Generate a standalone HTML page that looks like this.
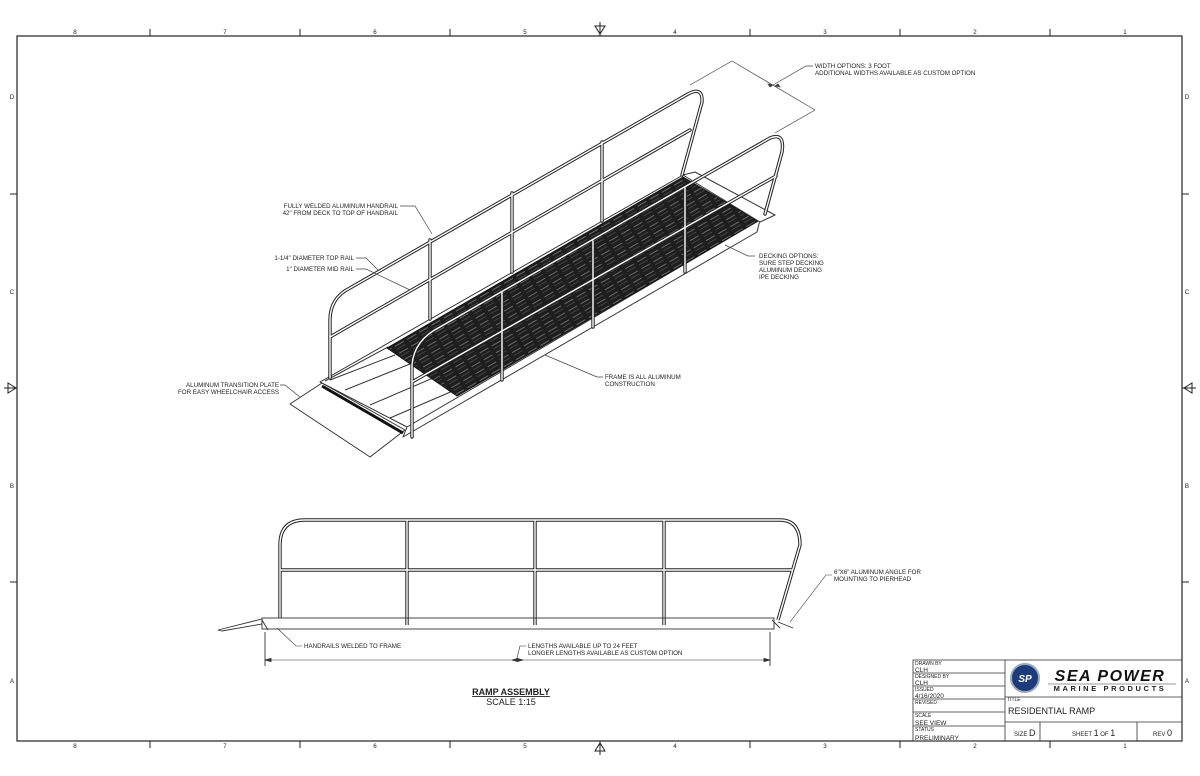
<!DOCTYPE html>
<html><head><meta charset="utf-8"><style>
html,body{margin:0;padding:0;background:#fff;}
svg{display:block;}
text{font-family:"Liberation Sans",sans-serif;fill:#222;}
.t{font-size:6.2px;}
</style></head><body>
<svg width="1200" height="776" viewBox="0 0 1200 776" xmlns="http://www.w3.org/2000/svg">
<defs>
<pattern id="dk" width="14" height="8" patternUnits="userSpaceOnUse" patternTransform="rotate(-30)">
<rect width="14" height="8" fill="#1e1e1e"/>
<rect x="1" y="1" width="10" height="1" fill="#6a6a6a"/>
<rect x="1" y="4.5" width="10" height="0.8" fill="#4a4a4a"/>
</pattern>
</defs>
<rect x="0" y="0" width="1200" height="776" fill="#fff"/>
<rect x="17" y="36" width="1165" height="705" fill="none" stroke="#222" stroke-width="1.2"/>
<g stroke="#222" stroke-width="1">
<line x1="150" y1="29" x2="150" y2="36"/><line x1="300" y1="29" x2="300" y2="36"/><line x1="450" y1="29" x2="450" y2="36"/><line x1="750" y1="29" x2="750" y2="36"/><line x1="900" y1="29" x2="900" y2="36"/><line x1="1050" y1="29" x2="1050" y2="36"/>
<line x1="150" y1="741" x2="150" y2="748"/><line x1="300" y1="741" x2="300" y2="748"/><line x1="450" y1="741" x2="450" y2="748"/><line x1="750" y1="741" x2="750" y2="748"/><line x1="900" y1="741" x2="900" y2="748"/><line x1="1050" y1="741" x2="1050" y2="748"/>
<line x1="10" y1="194" x2="17" y2="194"/><line x1="10" y1="582" x2="17" y2="582"/>
<line x1="1182" y1="194" x2="1189" y2="194"/><line x1="1182" y1="582" x2="1189" y2="582"/>
<line x1="600" y1="22" x2="600" y2="36"/><path d="M595,26 L605,26 L600,34 Z" fill="none"/>
<line x1="600" y1="741" x2="600" y2="755"/><path d="M595,751 L605,751 L600,743 Z" fill="none"/>
<line x1="4" y1="388" x2="17" y2="388"/><path d="M8,383 L8,393 L16,388 Z" fill="none"/>
<line x1="1182" y1="388" x2="1196" y2="388"/><path d="M1192,383 L1192,393 L1184,388 Z" fill="none"/>
</g>
<g class="t" text-anchor="middle">
<text x="75" y="34">8</text><text x="225" y="34">7</text><text x="375" y="34">6</text><text x="525" y="34">5</text><text x="675" y="34">4</text><text x="825" y="34">3</text><text x="975" y="34">2</text><text x="1125" y="34">1</text>
<text x="75" y="748">8</text><text x="225" y="748">7</text><text x="375" y="748">6</text><text x="525" y="748">5</text><text x="675" y="748">4</text><text x="825" y="748">3</text><text x="975" y="748">2</text><text x="1125" y="748">1</text>
<text x="12" y="99">D</text><text x="12" y="294">C</text><text x="12" y="488">B</text><text x="12" y="683">A</text>
<text x="1187" y="99">D</text><text x="1187" y="294">C</text><text x="1187" y="488">B</text><text x="1187" y="683">A</text>
</g>

<g stroke="#333" stroke-width="1" fill="none" stroke-linejoin="round">
<path d="M322,383 L405,430 L370,457 L290,404 Z" fill="#fff"/>
<line x1="322" y1="386" x2="403" y2="433" stroke-width="3" stroke="#111"/>
<path d="M320,382 L683,175 L760,220 L407,427 Z" fill="#fff"/>
<path d="M407,427 L403,437 L757,232 L760,220"/>
<line x1="330" y1="380" x2="395" y2="355"/><line x1="345" y1="390" x2="420" y2="360"/><line x1="370" y1="405" x2="440" y2="375"/><line x1="390" y1="418" x2="455" y2="390"/>
<line x1="325" y1="381" x2="388" y2="347"/>
<path d="M387,348 L683,177 L758,221 L457,396 Z" fill="url(#dk)" stroke="#111"/>
<path d="M683,175 L695,172 L775,215 L760,222 Z" fill="#fff"/>
</g>
<g fill="none" stroke="#222" stroke-width="3.4" stroke-linecap="round" stroke-linejoin="round">
<path d="M330,378 L330,320 Q330,298 350,288 L688,94 Q703,86 702,102 L682,175"/>
<path d="M330,337 L690,130"/>
<path d="M430,240 L430,319"/><path d="M512,193 L512,272"/><path d="M602,142 L602,221"/>
<path d="M412,437 L412,365 Q414,340 440,327 L770,138 Q785,132 782,152 L765,214"/>
<path d="M412,382 L776,176"/>
<path d="M502,292 L502,380"/><path d="M593,241 L593,327"/><path d="M685,188 L685,272"/>
</g>
<g fill="none" stroke="#fff" stroke-width="1.4" stroke-linecap="round" stroke-linejoin="round">
<path d="M330,378 L330,320 Q330,298 350,288 L688,94 Q703,86 702,102 L682,175"/>
<path d="M330,337 L690,130"/>
<path d="M430,240 L430,319"/><path d="M512,193 L512,272"/><path d="M602,142 L602,221"/>
<path d="M412,437 L412,365 Q414,340 440,327 L770,138 Q785,132 782,152 L765,214"/>
<path d="M412,382 L776,176"/>
<path d="M502,292 L502,380"/><path d="M593,241 L593,327"/><path d="M685,188 L685,272"/>
</g>

<g stroke="#444" stroke-width="0.7" fill="none">
<line x1="732" y1="61" x2="815" y2="110"/>
<line x1="732" y1="61" x2="690" y2="85"/>
<line x1="815" y1="110" x2="775" y2="133"/>
<path d="M773,85 l-5,-1 l2,3 Z M775,86 l5,1 l-2,-3 Z" fill="#333"/>
<polyline points="773,85 806,66 813,66"/>
<polyline points="400,206 415,206 432,234"/>
<polyline points="356,258 366,258 378,270"/>
<polyline points="356,269 366,269 410,290"/>
<polyline points="280,385 285,385 300,397"/>
<polyline points="603,377 597,377 545,355"/>
<polyline points="755,256 748,256 725,245"/>
</g>
<g class="t">
<text x="815" y="68">WIDTH OPTIONS: 3 FOOT</text>
<text x="815" y="75">ADDITIONAL WIDTHS AVAILABLE AS CUSTOM OPTION</text>
<text x="398" y="208" text-anchor="end">FULLY WELDED ALUMINUM HANDRAIL</text>
<text x="398" y="215" text-anchor="end">42" FROM DECK TO TOP OF HANDRAIL</text>
<text x="354" y="260" text-anchor="end">1-1/4" DIAMETER TOP RAIL</text>
<text x="354" y="271" text-anchor="end">1" DIAMETER MID RAIL</text>
<text x="759" y="258">DECKING OPTIONS:</text>
<text x="759" y="265">SURE STEP DECKING</text>
<text x="759" y="272">ALUMINUM DECKING</text>
<text x="759" y="279">IPE DECKING</text>
<text x="605" y="379">FRAME IS ALL ALUMINUM</text>
<text x="605" y="386">CONSTRUCTION</text>
<text x="279" y="387" text-anchor="end">ALUMINUM TRANSITION PLATE</text>
<text x="279" y="394" text-anchor="end">FOR EASY WHEELCHAIR ACCESS</text>
</g>

<g fill="none" stroke="#222" stroke-width="3.4" stroke-linejoin="round">
<path d="M280,618 L280,545 Q280,520 305,520 L780,520 Q800,520 800,545 L778,620"/>
<line x1="280" y1="570" x2="792" y2="570"/>
<line x1="407" y1="520" x2="407" y2="625"/><line x1="535" y1="520" x2="535" y2="625"/><line x1="664" y1="520" x2="664" y2="625"/>
</g>
<g fill="none" stroke="#fff" stroke-width="1.4" stroke-linejoin="round">
<path d="M280,618 L280,545 Q280,520 305,520 L780,520 Q800,520 800,545 L778,620"/>
<line x1="280" y1="570" x2="792" y2="570"/>
<line x1="407" y1="520" x2="407" y2="625"/><line x1="535" y1="520" x2="535" y2="625"/><line x1="664" y1="520" x2="664" y2="625"/>
</g>
<g fill="none" stroke="#333" stroke-width="0.9">
<rect x="262" y="618" width="512" height="11" fill="none"/>
<path d="M218,630 L262,619 L262,624 L222,631 Z"/>
<path d="M262,620 L268,630"/><path d="M772,620 L780,628"/>
<path d="M778,622 L793,628"/>
<line x1="265" y1="632" x2="265" y2="666"/><line x1="770" y1="632" x2="770" y2="666"/>
<line x1="265" y1="660" x2="770" y2="660" stroke-width="0.6"/>
<path d="M265,660 l6,-1.5 v3 Z M770,660 l-6,-1.5 v3 Z M512,660 l6,-1.5 v3 Z M523,660 l-6,-1.5 v3Z" fill="#333"/>
<polyline points="302,646 296,646 277,628" stroke-width="0.6"/>
<polyline points="526,646 520,646 517,658" stroke-width="0.6"/>
<polyline points="832,575 826,575 790,622" stroke-width="0.6"/>
</g>
<g class="t">
<text x="304" y="648">HANDRAILS WELDED TO FRAME</text>
<text x="528" y="648">LENGTHS AVAILABLE UP TO 24 FEET</text>
<text x="528" y="655">LONGER LENGTHS AVAILABLE AS CUSTOM OPTION</text>
<text x="834" y="574">6"X6" ALUMINUM ANGLE FOR</text>
<text x="834" y="581">MOUNTING TO PIERHEAD</text>
</g>
<text x="511" y="695" text-anchor="middle" style="font-size:9px;font-weight:bold;text-decoration:underline">RAMP ASSEMBLY</text>
<text x="511" y="705" text-anchor="middle" style="font-size:9px">SCALE 1:15</text>

<g stroke="#333" stroke-width="0.8" fill="none">
<rect x="913" y="660" width="269" height="81"/>
<line x1="1005" y1="660" x2="1005" y2="741"/>
<line x1="1005" y1="697" x2="1182" y2="697"/>
<line x1="1005" y1="722" x2="1182" y2="722"/>
<line x1="1040" y1="722" x2="1040" y2="741"/>
<line x1="1137" y1="722" x2="1137" y2="741"/>
<line x1="913" y1="673" x2="1005" y2="673"/><line x1="913" y1="686" x2="1005" y2="686"/><line x1="913" y1="699" x2="1005" y2="699"/><line x1="913" y1="712" x2="1005" y2="712"/><line x1="913" y1="726" x2="1005" y2="726"/>
</g>
<g style="font-size:5px" fill="#333">
<text x="915" y="665">DRAWN BY</text><text x="915" y="672" style="font-size:6.5px">CLH</text>
<text x="915" y="678">DESIGNED BY</text><text x="915" y="685" style="font-size:6.5px">CLH</text>
<text x="915" y="691">ISSUED</text><text x="915" y="698" style="font-size:6.5px">4/16/2020</text>
<text x="915" y="704">REVISED</text>
<text x="915" y="717">SCALE</text><text x="915" y="725" style="font-size:6.5px">SEE VIEW</text>
<text x="915" y="731">STATUS</text><text x="915" y="740" style="font-size:6.5px">PRELIMINARY</text>
<text x="1007" y="701">TITLE</text>
</g>
<circle cx="1025" cy="678" r="14" fill="#1d3b7a" stroke="#9ab" stroke-width="2"/>
<text x="1025" y="682" text-anchor="middle" style="font-size:10px;font-weight:bold;font-style:italic;fill:#fff">SP</text>
<text x="1110" y="681" text-anchor="middle" style="font-size:16px;font-weight:bold;font-style:italic;fill:#111;letter-spacing:1.5px">SEA POWER</text>
<line x1="1048" y1="684" x2="1176" y2="684" stroke="#333" stroke-width="0.6"/>
<text x="1110" y="691" text-anchor="middle" style="font-size:7.5px;font-weight:bold;letter-spacing:2.6px;fill:#222">MARINE PRODUCTS</text>
<text x="1008" y="714" style="font-size:9px">RESIDENTIAL RAMP</text>
<text x="1014" y="736" style="font-size:6px">SIZE <tspan style="font-size:9px">D</tspan></text>
<text x="1072" y="736" style="font-size:6px">SHEET <tspan style="font-size:9px">1</tspan> OF <tspan style="font-size:9px">1</tspan></text>
<text x="1153" y="736" style="font-size:6px">REV <tspan style="font-size:9px">0</tspan></text>
</svg>
</body></html>
